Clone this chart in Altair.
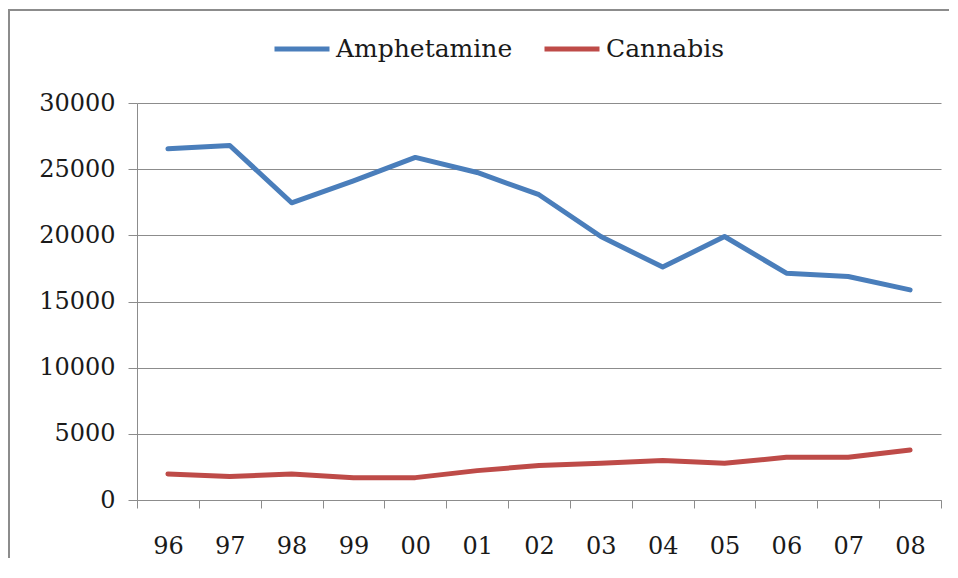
import altair as alt
import pandas as pd

years = ["96", "97", "98", "99", "00", "01", "02", "03", "04", "05", "06", "07", "08"]
amphetamine = [26540, 26790, 22460, 24120, 25890, 24750, 23070, 19910, 17600, 19910, 17140, 16890, 15880]
cannabis = [1970, 1770, 1970, 1690, 1690, 2220, 2600, 2770, 2980, 2770, 3230, 3230, 3780]
series = ["Amphetamine", "Cannabis"]
colors = ["#4A7EBB", "#BE4B48"]
y_ticks = [0, 5000, 10000, 15000, 20000, 25000, 30000]

rows = []
for name, vals in zip(series, [amphetamine, cannabis]):
    for yr, v in zip(years, vals):
        rows.append({"year": yr, "value": v, "drug": name})
df = pd.DataFrame(rows)

FONT = "DejaVu Serif"

lines = alt.Chart(df).mark_line(strokeWidth=5, strokeJoin="round", strokeCap="round").encode(
    x=alt.X("year:N", sort=years,
            scale=alt.Scale(type="band", paddingInner=0, paddingOuter=0),
            axis=alt.Axis(title=None, labelAngle=0, tickBand="extent", tickSize=8,
                          labelPadding=26, domainColor="#8c8c8c", tickColor="#8c8c8c",
                          labelFont=FONT, labelFontSize=24, labelColor="#1a1a1a", grid=False)),
    y=alt.Y("value:Q", scale=alt.Scale(domain=[0, 30000], nice=False),
            axis=alt.Axis(title=None, values=y_ticks, tickSize=9, labelPadding=13,
                          domainColor="#8c8c8c", tickColor="#8c8c8c", gridColor="#8c8c8c",
                          gridWidth=1, labelFont=FONT, labelFontSize=24, labelColor="#1a1a1a",
                          format="d")),
    color=alt.Color("drug:N", scale=alt.Scale(domain=series, range=colors),
                    legend=alt.Legend(title=None, orient="none", direction="horizontal",
                                      legendX=135, legendY=-84, symbolType="stroke",
                                      symbolSize=3025, symbolStrokeWidth=5,
                                      labelFont=FONT, labelFontSize=25, labelColor="#1a1a1a",
                                      labelLimit=400, labelOffset=4, columnPadding=21,
                                      padding=0)),
)

# outer chart frame: thin filled bands along the top and left edges
frame_data = alt.Data(values=[{}])
frame_top = alt.Chart(frame_data).mark_rect(fill="#8c8c8c", strokeWidth=0).encode(
    x=alt.value(-129), x2=alt.value(812), y=alt.value(-94), y2=alt.value(-92))
frame_left = alt.Chart(frame_data).mark_rect(fill="#8c8c8c", strokeWidth=0).encode(
    x=alt.value(-129), x2=alt.value(-127), y=alt.value(-94), y2=alt.value(470))

chart = alt.layer(frame_top, frame_left, lines).properties(
    width=804, height=397,
    autosize=alt.AutoSizeParams(type="none"),
    padding={"left": 129, "top": 95, "right": 9, "bottom": 58},
    background="white",
).configure_view(stroke=None)

chart.save("out.html", embed_options={"renderer": "svg", "actions": False})
